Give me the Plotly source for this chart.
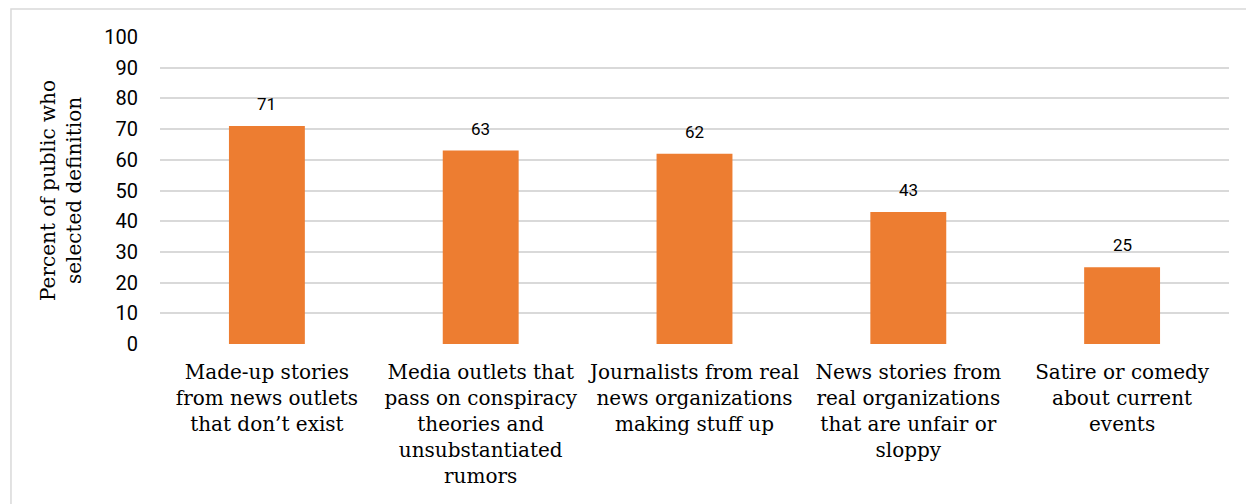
import plotly.graph_objects as go

categories = [
    "Made-up stories<br>from news outlets<br>that don\u2019t exist",
    "Media outlets that<br>pass on conspiracy<br>theories and<br>unsubstantiated<br>rumors",
    "Journalists from real<br>news organizations<br>making stuff up",
    "News stories from<br>real organizations<br>that are unfair or<br>sloppy",
    "Satire or comedy<br>about current<br>events",
]
values = [71, 63, 62, 43, 25]
tick_vals = [0, 10, 20, 30, 40, 50, 60, 70, 80, 90, 100]

fig = go.Figure()
fig.add_trace(go.Bar(
    x=categories, y=values, marker=dict(color="#ED7D31", line=dict(width=0)),
    width=0.355, hoverinfo="skip",
))
for c, v in zip(categories, values):
    fig.add_annotation(x=c, y=v, text=str(v), showarrow=False, yanchor="bottom",
                       yshift=10, font=dict(family="Roboto", size=17, color="#000"))

fig.update_layout(
    width=1254, height=504,
    margin=dict(l=152, r=33, t=29, b=168),
    plot_bgcolor="white", paper_bgcolor="white",
    showlegend=False,
    xaxis=dict(tickfont=dict(family="DejaVu Serif", size=20, color="#000"),
               showgrid=False, showline=False, zeroline=False, tickangle=0,
               ticklabelstandoff=14),
    yaxis=dict(range=[0, 100], tickvals=tick_vals, showgrid=True,
               gridcolor="#d9d9d9", gridwidth=1.5, zeroline=False,
               ticklabelstandoff=21,
               tickfont=dict(family="Roboto", size=20, color="#000"),
               title=dict(text="Percent of public who<br>selected definition",
                          font=dict(family="DejaVu Serif", size=20, color="#000"),
                          standoff=17)),
    shapes=[dict(type="rect", xref="paper", yref="paper",
                 x0=-0.1394, x1=1.05, y0=-0.7, y1=1.0912,
                 line=dict(color="#d9d9d9", width=1.5), fillcolor="rgba(0,0,0,0)",
                 layer="below")],
)

fig.write_html("out.html")
